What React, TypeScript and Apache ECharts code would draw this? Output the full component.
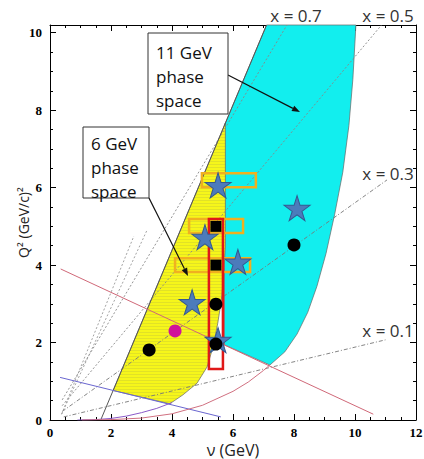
import React, { useEffect, useRef } from 'react';
import * as echarts from 'echarts';

// Regions (nu [GeV], Q^2 [(GeV/c)^2])
const cyanRegion = [[7.1, 10.2], [10.03, 10.2], [9.93, 8.8], [9.8, 7.6], [9.6, 6.4], [9.33, 5.3], [9.05, 4.3], [8.75, 3.45], [8.45, 2.78], [8.1, 2.22], [7.7, 1.76], [7.21, 1.42], [5.72, 1.94], [5.72, 7.61]];
const yellowRegion = [[2.07, 0.76], [5.75, 7.67], [5.75, 4.5], [5.7, 3.8], [5.62, 3.1], [5.5, 2.5], [5.35, 1.9], [5.15, 1.37], [4.82, 0.95], [4.36, 0.65], [3.93, 0.42]];

// Lines
const wLine = [[1.663, 0], [7.1, 10.2]];
const redLine = [[0.35, 3.9], [10.6, 0.15]];
const blueLine = [[0.33, 1.1], [5.6, 0.08]];
const purpleCurve = [[0.9, 0], [1.5, 0.01], [2.0, 0.04], [2.5, 0.1], [3.0, 0.19], [3.5, 0.3], [4.0, 0.45]];
const pinkCurve = [[1.05, 0], [2.0, 0.01], [3.0, 0.05], [4.0, 0.16], [5.0, 0.38], [6.0, 0.74], [6.5, 0.98], [7.0, 1.28], [7.21, 1.42]];
const xLine01 = [[0.45, 0.08], [11.0, 2.07]];
const xLine03 = [[0.4, 0.22], [11.05, 6.2]];
const xLine05 = [[0.4, 0.37], [10.87, 10.2]];
const xLine07 = [[0.4, 0.52], [7.77, 10.2]];
const steepLineA = [[0.38, 0.15], [3.18, 4.9]];
const steepLineB = [[0.38, 0.15], [2.75, 4.75]];

// Points
const blackCircles = [[3.25, 1.81], [5.44, 2.99], [5.44, 1.96], [8.0, 4.52]];
const magentaCircles = [[4.1, 2.3]];
const blackSquares = [[5.44, 4.0], [5.44, 5.0]];
const stars = [[4.66, 3.04], [5.08, 4.72], [5.51, 6.06], [6.16, 4.08], [8.1, 5.47], [5.51, 2.06]];

// Boxes [nuMin, nuMax, qMin, qMax]
const orangeBoxes = [[4.98, 6.75, 6.01, 6.37], [4.56, 6.33, 4.83, 5.19], [4.1, 6.56, 3.82, 4.18]];
const redBoxes = [[5.21, 5.67, 1.32, 5.19]];

const xTicks = [0, 2, 4, 6, 8, 10, 12];
const yTicks = [0, 2, 4, 6, 8, 10];

const STAR = 'path://M50,0 L61,35 L98,35 L68,57 L79,91 L50,70 L21,91 L32,57 L2,35 L39,35 Z';

function makeHatch(): any {
  try {
    const c = document.createElement('canvas');
    c.width = 4; c.height = 3;
    const g = c.getContext('2d');
    if (!g) return '#f3f31c';
    g.fillStyle = '#f6f61a';
    g.fillRect(0, 0, 4, 3);
    g.fillStyle = '#e2e226';
    g.fillRect(0, 2, 4, 1);
    return { image: c, repeat: 'repeat' };
  } catch (e) {
    return '#f3f31c';
  }
}

function polygonSeries(pts: number[][], fill: any, z: number) {
  return {
    type: 'custom',
    coordinateSystem: 'cartesian2d',
    data: pts,
    z,
    silent: true,
    encode: { x: 0, y: 1 },
    renderItem: (params: any, api: any) => {
      if (params.dataIndex !== 0) return null;
      const points = pts.map((p) => api.coord(p));
      return { type: 'polygon', shape: { points }, style: { fill, stroke: '#666', lineWidth: 0.7 } };
    },
  };
}

function boxSeries(boxes: number[][], color: string, width: number, z: number) {
  return {
    type: 'custom',
    coordinateSystem: 'cartesian2d',
    data: boxes,
    z,
    silent: true,
    encode: { x: [0, 1], y: [2, 3] },
    renderItem: (params: any, api: any) => {
      const a = api.coord([api.value(0), api.value(3)]);
      const b = api.coord([api.value(1), api.value(2)]);
      return {
        type: 'rect',
        shape: { x: a[0], y: a[1], width: b[0] - a[0], height: b[1] - a[1] },
        style: { fill: 'none', stroke: color, lineWidth: width },
      };
    },
  };
}

function lineSeries(data: number[][], color: string, width: number, type: any, z = 3) {
  return {
    type: 'line',
    data,
    z,
    silent: true,
    symbol: 'none',
    smooth: false,
    lineStyle: { color, width, type },
  };
}

function arrow(x1: number, y1: number, x2: number, y2: number) {
  const ang = Math.atan2(y2 - y1, x2 - x1);
  const L = 8, W = 3;
  const bx = x2 - L * Math.cos(ang), by = y2 - L * Math.sin(ang);
  const px = -Math.sin(ang) * W, py = Math.cos(ang) * W;
  return [
    { type: 'line', z: 50, shape: { x1, y1, x2: bx, y2: by }, style: { stroke: '#111', lineWidth: 1.2 } },
    { type: 'polygon', z: 50, shape: { points: [[x2, y2], [bx + px, by + py], [bx - px, by - py]] }, style: { fill: '#111' } },
  ];
}

function textBox(x: number, y: number, w: number, h: number, lines: string[], tx: number, ty: number) {
  return [
    { type: 'rect', z: 60, shape: { x, y, width: w, height: h }, style: { fill: '#fff', stroke: '#333', lineWidth: 1 } },
    {
      type: 'text', z: 61, x: tx, y: ty,
      style: { text: lines.join('\n'), font: '17px "Open Sans", sans-serif', fill: '#111', lineHeight: 24, textVerticalAlign: 'top' },
    },
  ];
}

function xLabel(text: string, cx: number, cy: number) {
  return {
    type: 'text', z: 70, x: cx, y: cy,
    style: { text, font: '17px "Open Sans", sans-serif', fill: '#333', textAlign: 'center', textVerticalAlign: 'middle' },
  };
}

export default function App() {
  const ref = useRef<HTMLDivElement>(null);
  useEffect(() => {
    if (!ref.current) return;
    const chart = echarts.init(ref.current, null, { renderer: 'svg' });
    const tickLabel = { fontFamily: '"Liberation Serif", serif', fontWeight: 'bold', fontSize: 13, color: '#000', lineHeight: 14 };
    const axisCommon = {
      axisLine: { show: true, onZero: false, lineStyle: { color: '#000', width: 1 } },
      axisTick: { show: true, inside: true, length: 6, lineStyle: { color: '#000' } },
      minorTick: { show: true, splitNumber: 4, length: 3, lineStyle: { color: '#000' } },
      splitLine: { show: false },
    };
    const option: any = {
      animation: false,
      backgroundColor: '#fff',
      grid: { left: 50, right: 8, top: 25, bottom: 39, containLabel: false, outerBoundsMode: 'none' },
      xAxis: [
        {
          type: 'value', min: 0, max: 12, interval: 2, position: 'bottom',
          ...axisCommon,
          axisLabel: { ...tickLabel, margin: 5, formatter: (v: number) => (xTicks.includes(v) ? String(v) : '') },
          name: 'ν (GeV)', nameLocation: 'middle', nameGap: 21, nameMoveOverlap: false,
          nameTextStyle: { fontFamily: '"Open Sans", sans-serif', fontSize: 16, color: '#222', lineHeight: 17 },
        },
        { type: 'value', min: 0, max: 12, interval: 2, position: 'top', ...axisCommon, axisLabel: { show: false } },
      ],
      yAxis: [
        {
          type: 'value', min: 0, max: 10.2, interval: 2, position: 'left',
          ...axisCommon,
          axisLabel: { ...tickLabel, margin: 8, formatter: (v: number) => (yTicks.includes(v) ? String(v) : '') },
          name: 'Q² (GeV/c)²', nameLocation: 'middle', nameGap: 20, nameRotate: 90, nameMoveOverlap: false,
          nameTextStyle: { fontFamily: '"Open Sans", sans-serif', fontSize: 14, color: '#222' },
        },
        { type: 'value', min: 0, max: 10.2, interval: 2, position: 'right', ...axisCommon, axisLabel: { show: false } },
      ],
      series: [
        polygonSeries(cyanRegion, '#12eeee', 1),
        polygonSeries(yellowRegion, makeHatch(), 2),
        lineSeries(xLine01, '#777', 0.9, [4, 2, 1, 2]),
        lineSeries(xLine03, '#777', 0.9, [4, 2, 1, 2]),
        lineSeries(xLine05, '#888', 0.9, [2, 2]),
        lineSeries(xLine07, '#888', 0.9, [2, 2]),
        lineSeries(steepLineA, '#999', 0.9, [2, 2]),
        lineSeries(steepLineB, '#999', 0.9, [2, 2]),
        lineSeries(wLine, '#555', 1, 'solid'),
        lineSeries(redLine, '#d06878', 1, 'solid'),
        lineSeries(blueLine, '#6a66d0', 1, 'solid'),
        lineSeries(purpleCurve, '#8a5ac8', 1, 'solid'),
        lineSeries(pinkCurve, '#d07080', 1, 'solid'),
        boxSeries(orangeBoxes, '#f0b020', 2.5, 4),
        boxSeries(redBoxes, '#e01818', 2.5, 4),
        {
          type: 'scatter', data: stars, symbol: STAR, symbolSize: [26, 25], z: 5, silent: true,
          itemStyle: { color: '#4c7bbb', borderColor: '#34598f', borderWidth: 1, opacity: 1 },
        },
        {
          type: 'scatter', data: blackCircles, symbol: 'circle', symbolSize: 13, z: 6, silent: true,
          itemStyle: { color: '#000', opacity: 1 },
        },
        {
          type: 'scatter', data: magentaCircles, symbol: 'circle', symbolSize: 13, z: 6, silent: true,
          itemStyle: { color: '#d0129c', opacity: 1 },
        },
        {
          type: 'scatter', data: blackSquares, symbol: 'rect', symbolSize: 11, z: 6, silent: true,
          itemStyle: { color: '#000', opacity: 1 },
        },
      ],
      graphic: [
        ...textBox(148, 33, 80, 81, ['11 GeV', 'phase', 'space'], 156, 40),
        ...textBox(83, 127, 66, 71, ['6 GeV', 'phase', 'space'], 91, 131),
        ...arrow(228, 75, 300, 112),
        ...arrow(149, 198, 188, 276),
        xLabel('x = 0.7', 296, 15),
        xLabel('x = 0.5', 388, 15),
        xLabel('x = 0.3', 388, 173),
        xLabel('x = 0.1', 388, 330),
      ],
    };
    chart.setOption(option);
    return () => chart.dispose();
  }, []);
  return <div ref={ref} style={{ position: 'fixed', left: 0, top: 0, width: 424, height: 459 }} />;
}
